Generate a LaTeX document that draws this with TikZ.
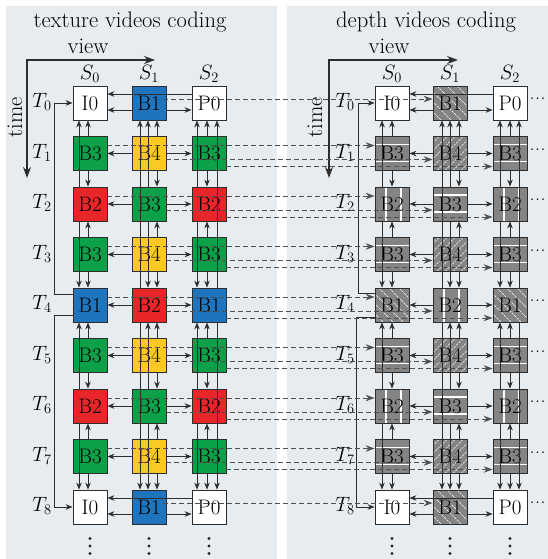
\documentclass[tikz,border=0pt]{standalone}
\usetikzlibrary{arrows.meta,calc}
\definecolor{bgc}{RGB}{231,236,241}
\definecolor{cblue}{RGB}{30,116,189}
\definecolor{cred}{RGB}{232,38,42}
\definecolor{cgreen}{RGB}{12,160,72}
\definecolor{cyellow}{RGB}{252,200,38}
\definecolor{dgray}{RGB}{132,132,132}
\definecolor{lnc}{RGB}{45,45,45}
\definecolor{dshc}{RGB}{80,80,80}
\newcommand\mycdots{\hbox{.\kern0.5pt.\kern0.5pt.}}
\tikzset{
 fbox/.style={draw=lnc, line width=0.8pt, minimum width=34pt, minimum height=34pt, inner sep=0pt, font=\fontsize{21}{21}\selectfont},
 tI0/.style={fbox, fill=white}, tP0/.style={fbox, fill=white},
 tB1/.style={fbox, fill=cblue}, tB2/.style={fbox, fill=cred},
 tB3/.style={fbox, fill=cgreen}, tB4/.style={fbox, fill=cyellow},
 dI0/.style={fbox, fill=white}, dP0/.style={fbox, fill=white},
 dB1/.style={fbox, fill=dgray, path picture={
   \foreach \k in {-26,-16,...,26}{\draw[white, line width=0.6pt, dash pattern=on 2.5pt off 1pt]
     ([shift={(\k-17,-17)}]path picture bounding box.center) -- ++(34,34);}}},
 dB4/.style={fbox, fill=dgray, path picture={
   \foreach \k in {-28,-20,...,28}{\draw[white, line width=0.4pt, dash pattern=on 2.5pt off 1pt]
     ([shift={(\k-17,17)}]path picture bounding box.center) -- ++(34,-34);}}},
 dB3/.style={fbox, fill=dgray, path picture={
   \draw[white, line width=1.1pt] ([shift={(-17,-9)}]path picture bounding box.center) -- ++(34,0);
   \draw[white, line width=1.1pt] ([shift={(-17,8)}]path picture bounding box.center) -- ++(34,0);}},
 dB2/.style={fbox, fill=dgray, path picture={
   \draw[white, line width=1.1pt] ([shift={(-6,-17)}]path picture bounding box.center) -- ++(0,34);
   \draw[white, line width=1.1pt] ([shift={(9,-17)}]path picture bounding box.center) -- ++(0,34);}},
 arr/.style={draw=lnc, line width=0.9pt, -{Stealth[length=7pt,width=5.5pt]}},
 dsh/.style={draw=dshc, line width=0.9pt, dash pattern=on 5pt off 3pt, -{Stealth[length=9pt,width=6.5pt]}},
 varr/.style={draw=lnc, line width=1.1pt, {Stealth[length=11pt,width=8pt]}-{Stealth[length=11pt,width=8pt]}},
 ttl/.style={font=\fontsize{22.5}{22.5}\selectfont, inner sep=0pt},
 lab/.style={font=\fontsize{19.5}{19.5}\selectfont, inner sep=0pt},
 dts/.style={font=\fontsize{20}{20}\selectfont, inner sep=0pt},
 vdot/.style={fill=black!85}
}
\begin{document}
\begin{tikzpicture}[x=1pt,y=-1pt]
\useasboundingbox (0,0) rectangle (548,559);
\fill[bgc] (6,6) rectangle (277,559);
\fill[bgc] (287,6) rectangle (548,559);
% titles
\node[ttl] (tl) at (130,21.5) {texture videos coding};
\node[ttl] (vl) at (88,46) {view};
\node[ttl] (tr) at (426,21.5) {depth videos coding};
\node[ttl] (vr) at (389,46) {view};
\node[ttl, rotate=90] (iml) at (15,117) {time};
\node[ttl, rotate=90] (imr) at (315,117) {time};
% view/time axes
\coordinate (Lo) at (27,60); \coordinate (Lx) at (155,60); \coordinate (Ly) at (27,178);
\coordinate (Ro) at (329,60); \coordinate (Rx) at (458,60); \coordinate (Ry) at (329,178);
\draw[varr] (Lx) -- (Lo) -- (Ly);
\draw[varr] (Rx) -- (Ro) -- (Ry);
% S labels and vertical ellipses
\foreach \ci/\xl/\xr in {0/90/392,1/149/450,2/209/510}{
  \node[lab] (LS\ci) at (\xl,73.5) {$S_{\ci}$};
  \node[lab] (DS\ci) at (\xr,73.5) {$S_{\ci}$};
  \foreach \dy in {538.5,546,553.5}{
    \fill[vdot] (\xl,\dy) circle (1.6);
    \fill[vdot] (\xr,\dy) circle (1.6);
  }
}
% boxes
\foreach \ri/\ta/\tb/\tc in {0/I0/B1/P0,1/B3/B4/B3,2/B2/B3/B2,3/B3/B4/B3,4/B1/B2/B1,5/B3/B4/B3,6/B2/B3/B2,7/B3/B4/B3,8/I0/B1/P0}{
  \pgfmathsetmacro\yy{103+50.5*\ri}
  \node[t\ta] (L0\ri) at (90,\yy) {\ta};
  \node[t\tb] (L1\ri) at (149,\yy) {\tb};
  \node[t\tc] (L2\ri) at (209,\yy) {\tc};
  \node[d\ta] (D0\ri) at (392,\yy) {\ta};
  \node[d\tb] (D1\ri) at (450,\yy) {\tb};
  \node[d\tc] (D2\ri) at (510,\yy) {\tc};
  \node[lab] (LT\ri) at (42,\yy-1) {$T_{\ri}$};
  \node[lab] (DT\ri) at (345,\yy-1) {$T_{\ri}$};
  \node[dts] (DD\ri) at (537.5,\yy-4) {\mycdots};
}
% horizontal arrows
\foreach \pn in {L,D}{
  \foreach \ri in {1,...,7}{
    \draw[arr] (\pn1\ri) -- (\pn0\ri);
    \draw[arr] (\pn1\ri) -- (\pn2\ri);
  }
  \foreach \ri in {0,8}{
    \draw[arr] ($(\pn2\ri.west)+(0,-9)$) -- ($(\pn0\ri.east)+(0,-9)$);
    \draw[arr] ($(\pn1\ri.west)+(0,7)$) -- ($(\pn0\ri.east)+(0,7)$);
    \draw[arr] ($(\pn1\ri.east)+(0,7)$) -- ($(\pn2\ri.west)+(0,7)$);
  }
}
% vertical arrows
\foreach \pn/\va/\ua/\wb/\vb/\ub/\vc/\uc/\wc in {L/-11/-2/-9/-1/8/-12/-2/8, D/-10/0/-8/0/9/-10/0/9}{
  \foreach \a/\b/\fa/\fb in {1/0/north/south,1/2/south/north,3/2/north/south,3/4/south/north,5/4/north/south,5/6/south/north,7/6/north/south,7/8/south/north}{
    \draw[arr] ($(\pn0\a.\fa)+(\ua,0)$) -- ($(\pn0\b.\fb)+(\ua,0)$);
    \draw[arr] ($(\pn1\a.\fa)+(\ub,0)$) -- ($(\pn1\b.\fb)+(\ub,0)$);
    \draw[arr] ($(\pn2\a.\fa)+(\uc,0)$) -- ($(\pn2\b.\fb)+(\uc,0)$);
  }
  \foreach \a/\b/\fa/\fb in {2/0/north/south,2/4/south/north,6/4/north/south,6/8/south/north}{
    \draw[arr] ($(\pn0\a.\fa)+(\va,0)$) -- ($(\pn0\b.\fb)+(\va,0)$);
    \draw[arr] ($(\pn1\a.\fa)+(\vb,0)$) -- ($(\pn1\b.\fb)+(\vb,0)$);
    \draw[arr] ($(\pn2\a.\fa)+(\vc,0)$) -- ($(\pn2\b.\fb)+(\vc,0)$);
  }
  \foreach \a/\b/\fa/\fb in {4/0/north/south,4/8/south/north}{
    \draw[arr] ($(\pn1\a.\fa)+(\wb,0)$) -- ($(\pn1\b.\fb)+(\wb,0)$);
    \draw[arr] ($(\pn2\a.\fa)+(\wc,0)$) -- ($(\pn2\b.\fb)+(\wc,0)$);
  }
}
% routing of B1 (T4) in view S0
\draw[arr] ($(L04.west)+(0,-11)$) -| ($(L00.west)+(-18,0)$) -- (L00.west);
\draw[arr] ($(L04.west)+(0,10)$) -| ($(L08.west)+(-18,0)$) -- (L08.west);
\draw[arr] ($(D04.west)+(0,-12)$) -| ($(D00.west)+(-16,0)$) -- (D00.west);
\draw[arr] ($(D04.west)+(0,12)$) -| ($(D08.west)+(-18,0)$) -- (D08.west);
% dashed texture -> depth
\foreach \ri in {1,...,7}{
  \draw[dsh] ($(L0\ri.east)+(0,-8)$) -- ($(D0\ri.west)+(0,-8)$);
  \draw[dsh] ($(L1\ri.east)+(0,6)$) -- ($(D1\ri.west)+(0,6)$);
  \draw[dsh] ($(L2\ri.east)+(0,13)$) -- ($(D2\ri.west)+(0,13)$);
}
\foreach \ri in {0,8}{
  \draw[dsh] ($(L1\ri.east)+(-3,-4)$) -- ($(D1\ri.west)+(0,-4)$);
}
\end{tikzpicture}
\end{document}
